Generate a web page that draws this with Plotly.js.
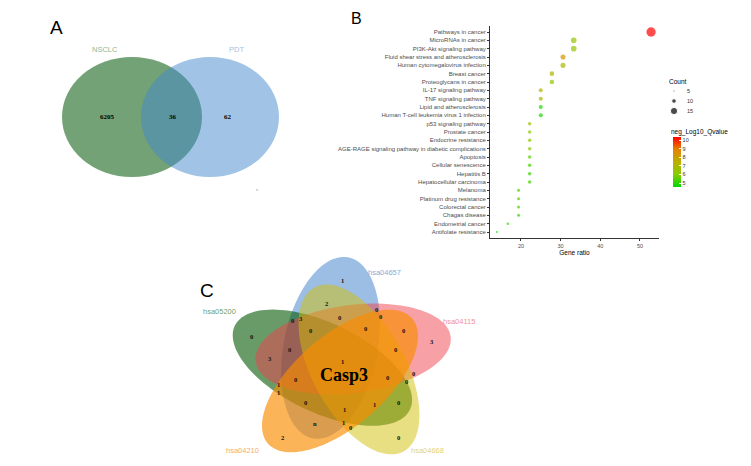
<!DOCTYPE html>
<html><head><meta charset="utf-8">
<script src="https://cdn.plot.ly/plotly-3.0.1.min.js"></script>
<style>html,body{margin:0;padding:0;background:#fff}#chart{width:751px;height:466px}</style>
</head><body><div id="chart"></div>
<script>
// ---------- DATA ----------
const pathways = [
  'Pathways in cancer','MicroRNAs in cancer','PI3K-Akt signaling pathway',
  'Fluid shear stress and atherosclerosis','Human cytomegalovirus infection',
  'Breast cancer','Proteoglycans in cancer','IL-17 signaling pathway','TNF signaling pathway',
  'Lipid and atherosclerosis','Human T-cell leukemia virus 1 infection','p53 signaling pathway',
  'Prostate cancer','Endocrine resistance','AGE-RAGE signaling pathway in diabetic complications',
  'Apoptosis','Cellular senescence','Hepatitis B','Hepatocellular carcinoma','Melanoma',
  'Platinum drug resistance','Colorectal cancer','Chagas disease','Endometrial cancer',
  'Antifolate resistance'];
const geneRatio = [52.8,33.3,33.3,30.6,30.6,27.8,27.8,25.0,25.0,25.0,25.0,22.2,22.2,22.2,22.2,22.2,22.2,22.2,22.2,19.4,19.4,19.4,19.4,16.7,13.9];
const counts    = [19,12,12,11,11,10,10,9,9,9,9,8,8,8,8,8,8,8,8,7,7,7,7,6,5];
const negLog10Q = [10.35,6.4,6.4,8.3,7.0,7.0,6.4,7.1,7.0,4.9,4.9,6.6,6.3,6.3,6.2,5.6,5.3,5.2,5.3,5.3,5.4,5.3,5.2,5.2,4.55];
const xTicks = [20,30,40,50];
const qTicks = [5,6,7,8,9,10];
const sizeLegend = [5,10,15];

const vennASets = ['NSCLC','PDT'];
const vennACounts = [6205,36,62];   // NSCLC only, both, PDT only

const vennCSets = ['hsa04657','hsa04115','hsa04668','hsa04210','hsa05200'];
const vennCValues = ['1','2','0','0','3','0','0','0','0','0','3','0','0','0','3','1','0','0','0','0','1','1','0','1','1','0','n','1','0','2','0'];
const vennCCenter = 'Casp3';

// ---------- LAYOUT HELPERS (positions / styles) ----------
const W = 751, H = 466;
const px = x => x / W, py = y => 1 - y / H;
const sizeOf = c => 2 + (c - 5) * 0.52;

const vennCPos = [[342,280],[326,303],[376,309],[292,320],[301,318],[339,317],[380,316],[365,328],[310,330],[403,330],
  [432,341],[251,336],[289,349],[395,349],[270,358],[342,361],[295,379],[387,377],[413,373],[406,381],
  [278,384],[278,392],[305,402],[344,409],[374,404],[398,402],[315,423],[343,422],[350,427],[282,437],[398,437]];

const vennCGeom = {cx:341, cy:363, d:18, a:44, b:92, phi0:-33, tilt:43, sx:1.07};
const vennCFill = ['rgb(59,125,201)','rgb(239,65,75)','rgb(209,189,5)','rgb(250,140,0)','rgb(5,88,5)'];
const vennCOpac = [0.5,0.5,0.5,0.65,0.6];
const vennCDrawOrder = [0,4,1,2,3];
const vennCLabelPos = [[384,272,'center'],[459,321,'center'],[427,450,'center'],[242,450,'center'],[238,311,'right']];
const vennCLabelCol = ['#86acd9','#f39196','#e3d474','#f7ad6a','#6f9f73'];

function ellipsePath(g, k) {
  const phi = (g.phi0 + 72 * k) * Math.PI / 180;
  const th = (g.phi0 + 72 * k + g.tilt) * Math.PI / 180;
  const ox = g.d * Math.sin(phi), oy = -g.d * Math.cos(phi);
  const ux = Math.sin(th), uy = -Math.cos(th), vx = -uy, vy = ux;
  let p = '';
  for (let i = 0; i <= 120; i++) {
    const t = i / 120 * 2 * Math.PI;
    const lx = ox + g.b * Math.cos(t) * ux + g.a * Math.sin(t) * vx;
    const ly = oy + g.b * Math.cos(t) * uy + g.a * Math.sin(t) * vy;
    p += (i ? 'L' : 'M') + (g.cx + lx * g.sx).toFixed(2) + ',' + (g.cy + ly).toFixed(2);
  }
  return p + 'Z';
}

const shapes = [];
// Venn A
shapes.push({type:'circle', xref:'x2', yref:'y2', x0:62, x1:202, y0:57, y1:177,
  fillcolor:'rgb(20,100,25)', opacity:0.6, line:{width:0}, layer:'above'});
shapes.push({type:'circle', xref:'x2', yref:'y2', x0:141, x1:279, y0:57, y1:177,
  fillcolor:'rgb(65,135,205)', opacity:0.5, line:{width:0}, layer:'above'});
// Venn C
vennCDrawOrder.forEach(k => shapes.push({type:'path', xref:'x2', yref:'y2', path: ellipsePath(vennCGeom, k),
  fillcolor: vennCFill[k], opacity: vennCOpac[k], line:{width:0}, layer:'above'}));

const ann = [];
const txt = (x, y, t, o) => ann.push(Object.assign({xref:'x2', yref:'y2', x:x, y:y, text:t, showarrow:false,
  xanchor:'center', yanchor:'middle', font:{family:'Liberation Sans', size:7, color:'#000'}}, o || {}));
// panel letters
txt(56, 27, 'A', {font:{family:'Liberation Sans', size:19, color:'#000'}});
txt(356, 18, 'B', {font:{family:'Liberation Sans', size:16, color:'#000'}});
txt(207, 290, 'C', {font:{family:'Liberation Sans', size:19, color:'#000'}});
// Venn A labels
txt(105, 49, vennASets[0], {font:{family:'Liberation Sans', size:7.5, color:'#8fb691'}});
txt(236, 49, vennASets[1], {font:{family:'Liberation Sans', size:7.5, color:'#9fc0e3'}});
[[107,117],[173,117],[228,117]].forEach((p, i) => txt(p[0], p[1], '<b>' + vennACounts[i] + '</b>',
  {font:{family:'Liberation Serif', size:7, color:'#000'}}));
txt(257, 189, 'n', {font:{family:'Liberation Sans', size:4, color:'#999'}});
// Venn C labels
vennCValues.forEach((v, i) => txt(vennCPos[i][0], vennCPos[i][1], '<b>' + v + '</b>',
  {font:{family:'Liberation Serif', size:6.5, color:'#111'}}));
txt(344, 375, '<b>' + vennCCenter + '</b>', {font:{family:'Liberation Serif', size:18, color:'#000'}});
vennCSets.forEach((s, i) => txt(vennCLabelPos[i][0], vennCLabelPos[i][1], s,
  {xanchor: vennCLabelPos[i][2], font:{family:'Liberation Sans', size:7.5, color: vennCLabelCol[i]}}));
// size legend + colorbar title
txt(667, 81, 'Count', {xanchor:'left', font:{family:'Liberation Sans', size:6.5, color:'#000'}});
sizeLegend.forEach((s, i) => txt(685, 91 + 10 * i, String(s), {xanchor:'left', font:{family:'Liberation Sans', size:5.5, color:'#333'}}));
txt(669, 132, 'neg_Log10_Qvalue', {xanchor:'left', font:{family:'Liberation Sans', size:6.5, color:'#000'}});

const cats = pathways.slice().reverse();

const traces = [
  {type:'scatter', mode:'markers', x: geneRatio, y: pathways, xaxis:'x', yaxis:'y',
   marker:{size: counts.map(sizeOf), sizemode:'diameter', color: negLog10Q,
     colorscale:[[0,'#00d800'],[0.25,'#86cc00'],[0.5,'#bcae00'],[0.75,'#e58200'],[1,'#ff0000']],
     line:{width:0},
     colorbar:{x:px(673), xanchor:'left', y:py(137), yanchor:'top', len:50, lenmode:'pixels',
       thickness:8, xpad:0, ypad:0, outlinewidth:0, tickvals:qTicks, ticks:'inside', ticklen:2,
       tickcolor:'#fff', tickfont:{family:'Liberation Sans', size:5.5, color:'#333'}}},
   showlegend:false, hoverinfo:'x+y'},
  {type:'scatter', mode:'markers', x: sizeLegend.map(() => 674), y: sizeLegend.map((s, i) => 91 + 10 * i),
   xaxis:'x2', yaxis:'y2', marker:{size: sizeLegend.map(sizeOf), color:'#000'}, showlegend:false, hoverinfo:'skip'}
];

const layout = {
  width: W, height: H, margin:{l:0, r:0, t:0, b:0}, paper_bgcolor:'#fff', plot_bgcolor:'rgba(0,0,0,0)',
  showlegend:false,
  font:{family:'Liberation Sans'},
  xaxis:{domain:[px(490), px(659)], range:[12.2, 54.8], anchor:'y', showline:true, linecolor:'#333', linewidth:1,
    ticks:'outside', ticklen:2, tickcolor:'#333', tickvals:xTicks, showgrid:false, zeroline:false,
    tickfont:{family:'Liberation Sans', size:5.5, color:'#4d4d4d'},
    title:{text:'Gene ratio', font:{family:'Liberation Sans', size:6.5, color:'#000'}, standoff:1}},
  yaxis:{domain:[py(238), py(26)], anchor:'x', type:'category', categoryorder:'array', categoryarray: cats,
    range:[-0.72, 24.72], showline:true, linecolor:'#333', linewidth:1, ticks:'outside', ticklen:2,
    tickcolor:'#333', showgrid:false, zeroline:false,
    tickfont:{family:'Liberation Sans', size:6, color:'#4d4d4d'}},
  xaxis2:{domain:[0,1], range:[0, W], anchor:'y2', visible:false, fixedrange:true},
  yaxis2:{domain:[0,1], range:[H, 0], anchor:'x2', visible:false, fixedrange:true},
  shapes: shapes,
  annotations: ann
};

Plotly.newPlot('chart', traces, layout, {displayModeBar:false, staticPlot:true});
</script>
</body></html>
